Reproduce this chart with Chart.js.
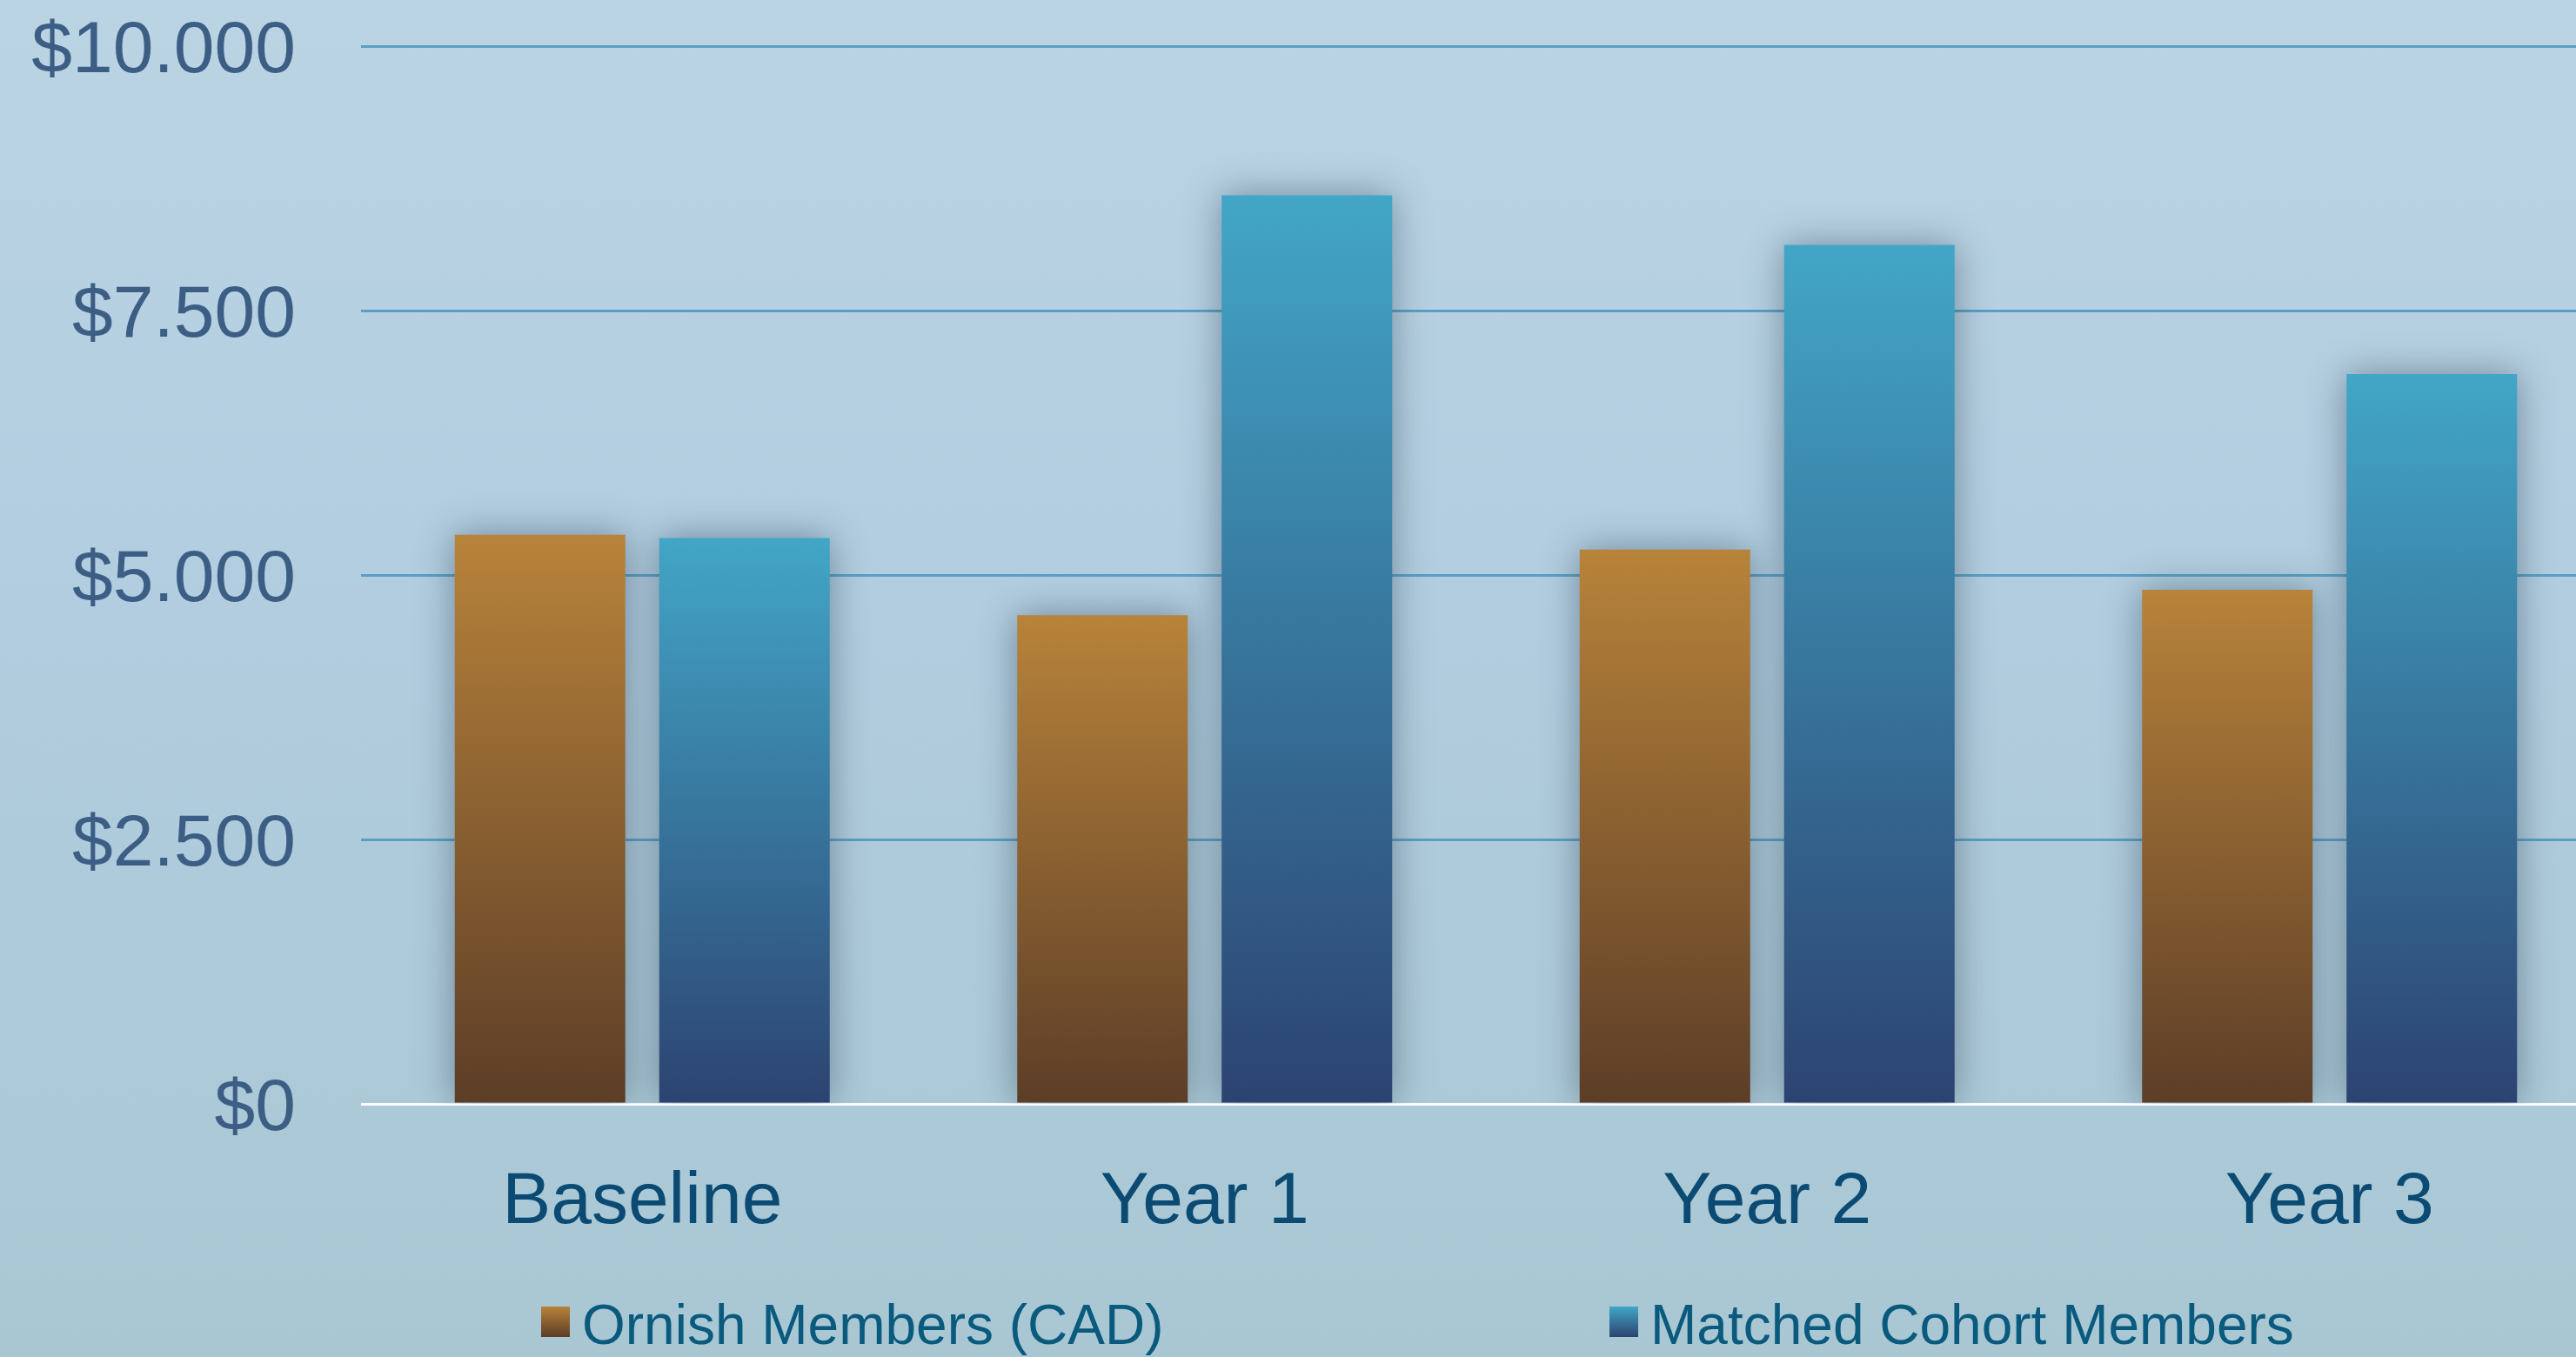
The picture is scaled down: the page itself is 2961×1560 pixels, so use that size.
<!DOCTYPE html>
<html>
<head>
<meta charset="utf-8">
<script src="https://cdn.jsdelivr.net/npm/chart.js@4.4.1/dist/chart.umd.min.js"></script>
<style>
  html, body {
    margin: 0;
    padding: 0;
    width: 2961px;
    height: 1560px;
    overflow: hidden;
    background: linear-gradient(to bottom, #bbd4e4 0%, #b1cddf 45%, #a9c7d3 100%);
    font-family: "Liberation Sans", Arial, sans-serif;
  }
  #wrap {
    position: absolute;
    left: 0;
    top: 0;
    width: 3010px;
    height: 1560px;
  }
  .legend-box {
    position: absolute;
    width: 33px;
    height: 35px;
  }
  .legend-text {
    position: absolute;
    font-size: 64px;
    line-height: 64px;
    color: #0a5a7e;
    white-space: nowrap;
  }
</style>
</head>
<body>
<div id="wrap"><canvas id="chartCanvas"></canvas></div>

<div class="legend-box" style="left:622px; top:1502px; background:linear-gradient(#b8833a,#5c3d27)"></div>
<div class="legend-text" id="legend0" style="left:669px; top:1491px"></div>
<div class="legend-box" style="left:1850px; top:1502px; background:linear-gradient(#42a6c7,#2c4371)"></div>
<div class="legend-text" id="legend1" style="left:1897px; top:1491px"></div>

<script>
const categories = ["Baseline", "Year 1", "Year 2", "Year 3"];
const seriesNames = ["Ornish Members (CAD)", "Matched Cohort Members"];
const ornishCosts = [5380, 4620, 5240, 4860];
const cohortCosts = [5350, 8590, 8120, 6900];
const yTicks = [0, 2500, 5000, 7500, 10000];

document.getElementById("legend0").textContent = seriesNames[0];
document.getElementById("legend1").textContent = seriesNames[1];

// gradient per bar, light at the top, dark at the axis
function barGradient(topColor, bottomColor) {
  return (c) => {
    const chart = c.chart;
    if (!chart.chartArea || c.raw === undefined) return topColor;
    const y = chart.scales.y;
    const top = y.getPixelForValue(c.raw);
    const bottom = y.getPixelForValue(0);
    const g = chart.ctx.createLinearGradient(0, top, 0, bottom);
    g.addColorStop(0, topColor);
    g.addColorStop(1, bottomColor);
    return g;
  };
}

const barShadow = {
  id: "barShadow",
  beforeDatasetsDraw(chart) {
    const ctx = chart.ctx;
    ctx.save();
    ctx.shadowColor = "rgba(30, 50, 70, 0.45)";
    ctx.shadowBlur = 40;
    ctx.shadowOffsetX = 0;
    ctx.shadowOffsetY = 0;
  },
  afterDatasetsDraw(chart) {
    chart.ctx.restore();
  },
};

function fmtMoney(v) {
  return "$" + String(v).replace(/\B(?=(\d{3})+(?!\d))/g, ".");
}

const ctx = document.getElementById("chartCanvas").getContext("2d");

const chart = new Chart(ctx, {
  type: "bar",
  data: {
    labels: categories,
    datasets: [
      {
        label: seriesNames[0],
        data: ornishCosts,
        backgroundColor: barGradient("#b8833a", "#5c3d27"),
      },
      {
        label: seriesNames[1],
        data: cohortCosts,
        backgroundColor: barGradient("#42a6c7", "#2c4371"),
      },
    ],
  },
  options: {
    responsive: true,
    maintainAspectRatio: false,
    animation: false,
    categoryPercentage: 0.727,
    barPercentage: 0.834,
    layout: { padding: { top: 53, right: 9, bottom: 0, left: 0 } },
    plugins: {
      legend: { display: false },
      tooltip: { enabled: false },
    },
    scales: {
      x: {
        grid: { display: false },
        border: { display: false },
        ticks: {
          color: "#0b4a72",
          font: { family: "Liberation Sans", size: 84 },
          padding: 55,
        },
        afterFit: (scale) => {
          scale.height = 291;
          scale.paddingLeft = 0;
          scale.paddingRight = 0;
        },
      },
      y: {
        min: 0,
        max: 10000,
        border: { display: false },
        grid: {
          drawTicks: false,
          lineWidth: 3,
          color: (c) => (c.tick && c.tick.value === 0 ? "#ffffff" : "#5b9fc3"),
        },
        afterBuildTicks: (scale) => {
          scale.ticks = yTicks.map((v) => ({ value: v }));
        },
        ticks: {
          color: "#3c5e85",
          font: { family: "Liberation Sans", size: 84 },
          padding: 75,
          labelOffset: 7,
          callback: (v) => fmtMoney(v),
        },
        afterFit: (scale) => {
          scale.width = 415;
          scale.paddingTop = 0;
          scale.paddingBottom = 0;
        },
      },
    },
  },
  plugins: [barShadow],
});
</script>
</body>
</html>
